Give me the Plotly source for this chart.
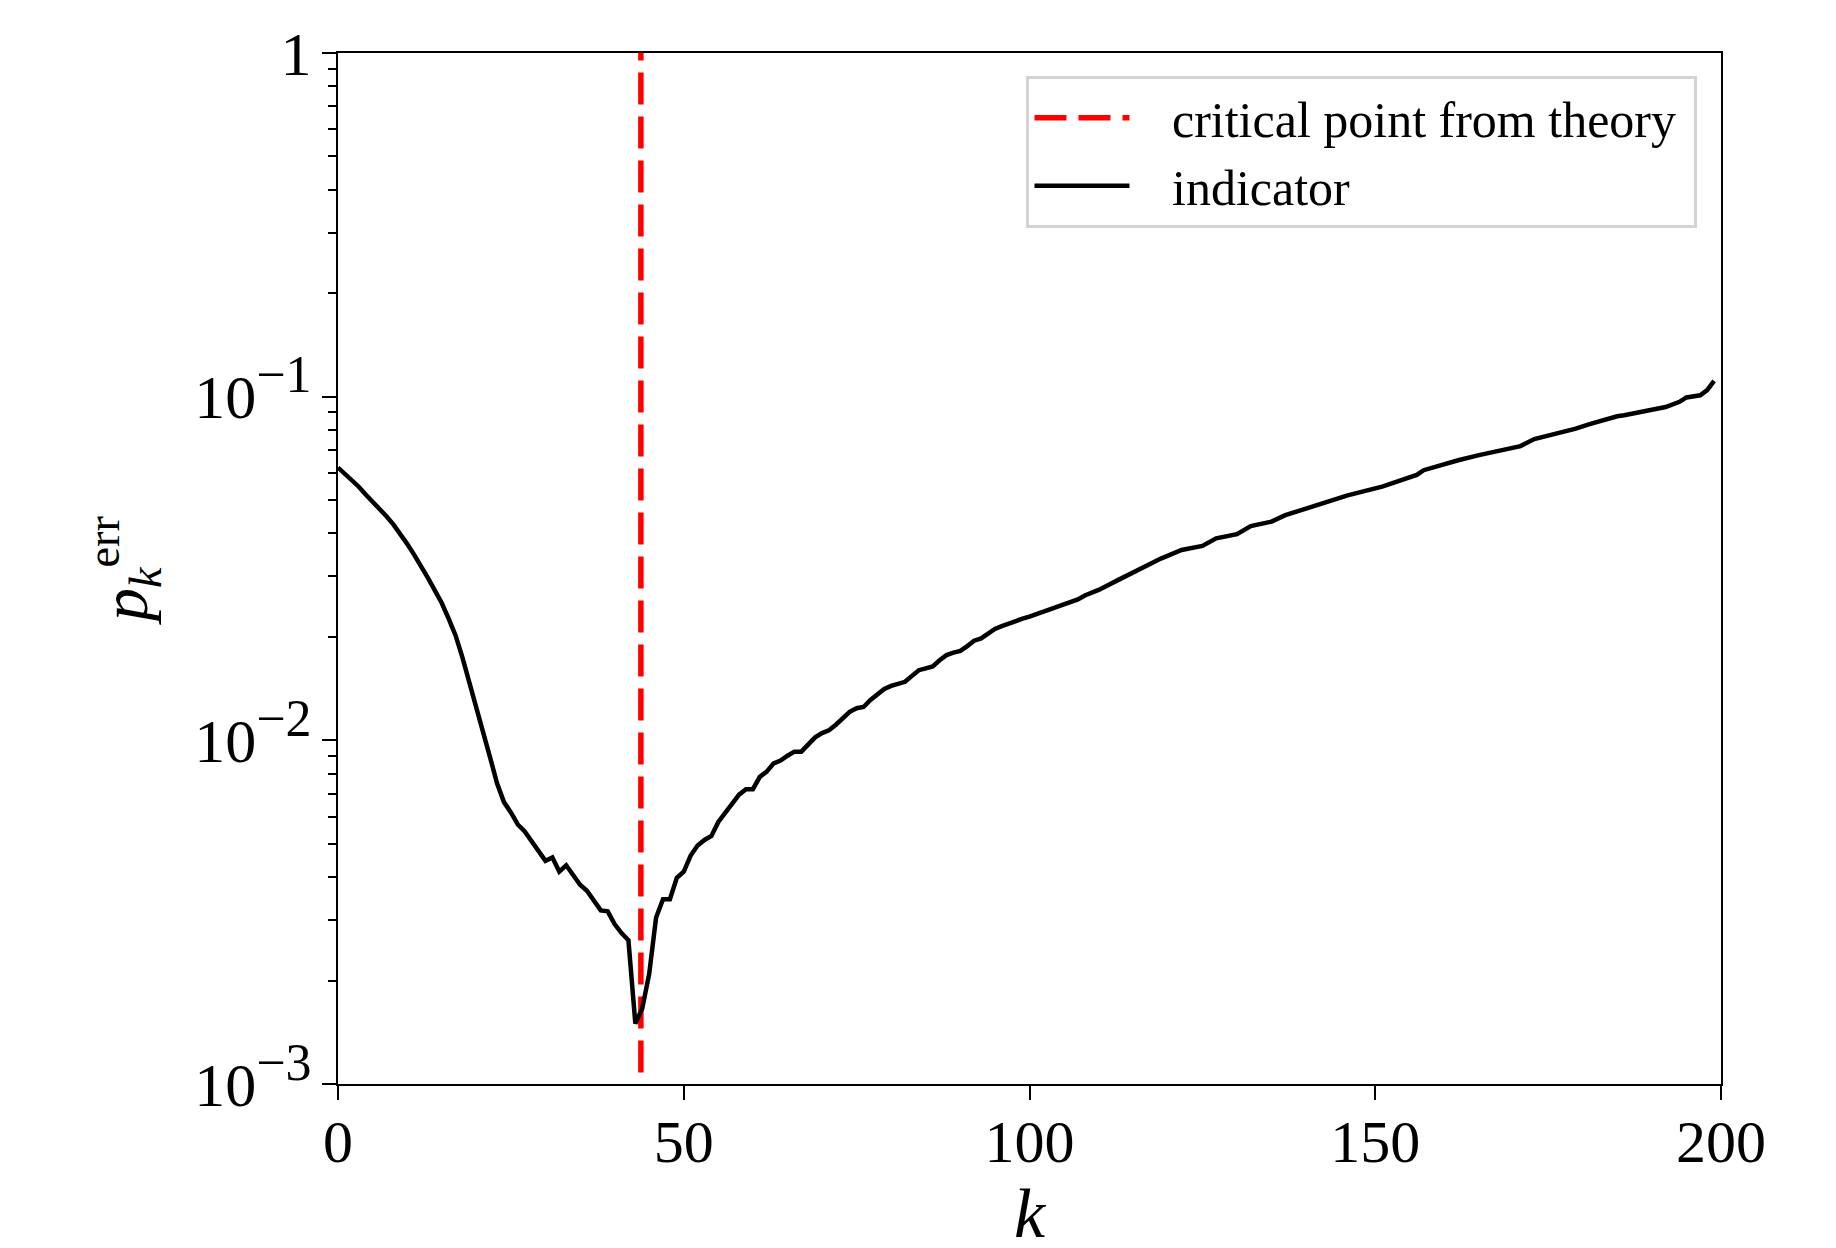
import plotly.graph_objects as go

# ---- data ----
k_values = [0, 1, 2, 3, 4, 5, 6, 7, 8, 9, 10, 11, 12, 13, 14, 15, 16, 17, 18, 19,
            20, 21, 22, 23, 24, 25, 26, 27, 28, 29, 30, 31, 32, 33, 34, 35, 36, 37, 38, 39,
            40, 41, 42, 43, 44, 45, 46, 47, 48, 49, 50, 51, 52, 53, 54, 55, 56, 57, 58, 59,
            60, 61, 62, 63, 64, 65, 66, 67, 68, 69, 70, 71, 72, 73, 74, 75, 76, 77, 78, 79,
            80, 81, 82, 83, 84, 85, 86, 87, 88, 89, 90, 91, 92, 93, 94, 95, 96, 97, 98, 99,
            100, 101, 102, 103, 104, 105, 106, 107, 108, 110, 113, 116, 119, 122, 125, 127,
            130, 132, 135, 137, 141, 144, 146, 151, 153, 156, 157, 159, 161, 162, 165, 168,
            171, 173, 176, 179, 181, 183, 185, 186, 189, 192, 194, 195, 197, 198, 199]

p_err = [0.0622, 0.0596, 0.0575, 0.0547, 0.0519, 0.0495, 0.0473, 0.0449, 0.0425, 0.0400,
         0.0373, 0.0347, 0.0322, 0.0297, 0.0273, 0.0251, 0.0226, 0.0202, 0.0174, 0.0148,
         0.0126, 0.0107, 0.00891, 0.00750, 0.00661, 0.00617, 0.00569, 0.00543, 0.00507, 0.00479,
         0.00446, 0.00456, 0.00415, 0.00433, 0.00403, 0.00380, 0.00365, 0.00343, 0.00320, 0.00318,
         0.00292, 0.00275, 0.00262, 0.00150, 0.00166, 0.00209, 0.00305, 0.00345, 0.00345, 0.00398,
         0.00415, 0.00462, 0.00494, 0.00513, 0.00527, 0.00579, 0.00614, 0.00653, 0.00695, 0.00721,
         0.00721, 0.00783, 0.00811, 0.00857, 0.00873, 0.00902, 0.00927, 0.00927, 0.00977, 0.0102,
         0.0105, 0.0107, 0.0111, 0.0116, 0.0121, 0.0124, 0.0125, 0.0131, 0.0136, 0.0141,
         0.0144, 0.0146, 0.0148, 0.0154, 0.0160, 0.0162, 0.0164, 0.0171, 0.0177, 0.0180,
         0.0182, 0.0188, 0.0195, 0.0198, 0.0204, 0.0211, 0.0215, 0.0219, 0.0222, 0.0226,
         0.0229, 0.0233, 0.0236, 0.0241, 0.0245, 0.0248, 0.0252, 0.0257, 0.0264, 0.0274,
         0.0294, 0.0316, 0.0338, 0.0358, 0.0368, 0.0387, 0.0398, 0.0420, 0.0433, 0.0452,
         0.0478, 0.0498, 0.0516, 0.0547, 0.0565, 0.0592, 0.0611, 0.0628, 0.0646, 0.0653,
         0.0676, 0.0695, 0.0718, 0.0753, 0.0778, 0.0807, 0.0832, 0.0855, 0.0877, 0.0883,
         0.0910, 0.0933, 0.0966, 0.0995, 0.1009, 0.1045, 0.1112]

critical_k = 43.8
critical_y = [0.00108, 1]

x_tick_vals = [0, 50, 100, 150, 200]
x_tick_text = ["0", "50", "100", "150", "200"]
y_tick_vals = [0.001, 0.01, 0.1, 1]
y_tick_text = ["10<sup><span style='font-size:52px'>\u22123</span></sup>",
               "10<sup><span style='font-size:52px'>\u22122</span></sup>",
               "10<sup><span style='font-size:52px'>\u22121</span></sup>",
               "1"]
y_minor_vals = [m * d for d in (0.001, 0.01, 0.1) for m in range(2, 10)]

FONT = "Liberation Serif"
PAD = "\u2002\u2005"
TRAIL = "\u2005"

fig = go.Figure()
fig.add_trace(go.Scatter(
    x=[critical_k, critical_k], y=critical_y, mode="lines",
    line=dict(color="#ff0000", width=5.5, dash="32px,12px"),
    name=PAD + "critical point from theory" + TRAIL))
fig.add_trace(go.Scatter(
    x=k_values, y=p_err, mode="lines",
    line=dict(color="black", width=4.5),
    name=PAD + "indicator"))

fig.update_layout(
    width=1836, height=1248,
    margin=dict(l=330, r=123, t=45, b=172),
    paper_bgcolor="white", plot_bgcolor="white",
    font=dict(family=FONT, color="black", size=60),
    showlegend=True,
    legend=dict(
        x=0.983, y=0.978, xanchor="right", yanchor="top",
        bgcolor="white", bordercolor="#d4d4d4", borderwidth=3,
        font=dict(family=FONT, size=50, color="black"),
        itemwidth=95, tracegroupgap=0,
    ),
    xaxis=dict(
        range=[0, 200], tickvals=x_tick_vals, ticktext=x_tick_text,
        automargin=False,
        showline=True, linecolor="black", linewidth=2, mirror=True,
        ticks="outside", ticklen=14, tickwidth=2, tickcolor="black",
        ticklabelstandoff=-10,
        showgrid=False, zeroline=False,
        tickfont=dict(family=FONT, size=60),
        title=dict(text="<i>k</i>", font=dict(family=FONT, size=70), standoff=13),
    ),
    yaxis=dict(
        type="log", range=[-3, 0], tickvals=y_tick_vals, ticktext=y_tick_text,
        automargin=False,
        showline=True, linecolor="black", linewidth=2, mirror=True,
        ticks="outside", ticklen=14, tickwidth=2, tickcolor="black",
        ticklabelstandoff=-2,
        showgrid=False, zeroline=False,
        tickfont=dict(family=FONT, size=62),
        minor=dict(tickvals=y_minor_vals, ticks="outside", ticklen=8,
                   tickwidth=1.5, tickcolor="black", showgrid=False),
        title=dict(text="<i>p</i><sub><i>k</i></sub><sup>err</sup>",
                   font=dict(family=FONT, size=66), standoff=25),
    ),
)

fig.write_html("out.html")
